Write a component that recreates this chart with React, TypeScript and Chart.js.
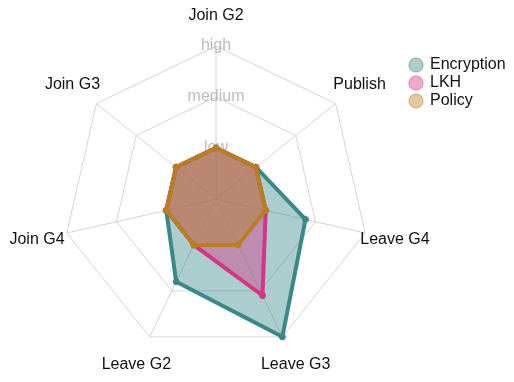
import React, { useEffect, useRef } from "react";
import { Chart, registerables } from "chart.js";

Chart.register(...registerables);

const categories = ["Join G2", "Publish", "Leave G4", "Leave G3", "Leave G2", "Join G4", "Join G3"];
const encryption = [1, 1, 1.8, 3, 1.8, 1, 1];
const lkh = [1, 1, 1, 2.1, 1, 1, 1];
const policy = [1, 1, 1, 1, 1, 1, 1];
const tickLabels = ["", "low", "medium", "high"];

const FONT = "'Liberation Sans', Arial, Helvetica, sans-serif";

const centeredLabels = {
  id: "centeredLabels",
  afterLayout(chart: any) {
    const lg = chart.legend;
    if (lg) {
      lg.left = 408;
      lg.right = 408 + lg.width;
      lg.top = 55;
      lg.bottom = 55 + lg.height;
    }
  },
  afterDraw(chart: any) {
    const scale = chart.scales.r;
    const ctx = chart.ctx;
    ctx.save();
    ctx.font = `16px ${FONT}`;
    ctx.fillStyle = "#111";
    ctx.textAlign = "center";
    ctx.textBaseline = "middle";
    const labels = chart.data.labels as string[];
    labels.forEach((lab, i) => {
      const p = scale.getPointPosition(i, scale.drawingArea * 1.2);
      ctx.fillText(lab, p.x, p.y);
    });
    ctx.restore();
  },
};

export default function App() {
  const ref = useRef<HTMLCanvasElement | null>(null);
  useEffect(() => {
    document.body.style.margin = "0";
    const ctx = ref.current!;
    const mk = (label: string, data: number[], rgb: string, order: number) => ({
      label,
      data,
      order,
      borderColor: `rgb(${rgb})`,
      backgroundColor: `rgba(${rgb},0.42)`,
      pointBackgroundColor: `rgb(${rgb})`,
      pointBorderColor: `rgb(${rgb})`,
      borderWidth: 4,
      pointRadius: 3,
      pointBorderWidth: 1,
      fill: "start",
    });
    const chart = new Chart(ctx, {
      type: "radar",
      data: {
        labels: categories,
        datasets: [
          mk("Encryption", encryption, "58,137,135", 3),
          mk("LKH", lkh, "214,52,134", 2),
          mk("Policy", policy, "184,126,32", 1),
        ] as any,
      },
      plugins: [centeredLabels],
      options: {
        animation: false,
        responsive: false,
        layout: { padding: { top: 36, bottom: 19, left: 46, right: 128 } },
        plugins: {
          legend: {
            position: "chartArea" as any,
            align: "start",
            labels: {
              usePointStyle: true,
              pointStyle: "circle",
              boxWidth: 12,
              boxHeight: 10,
              padding: 2,
              color: "#111",
              font: { family: FONT, size: 16 },
              generateLabels: (ch: any) =>
                ch.data.datasets.map((ds: any, i: number) => ({
                  text: ds.label,
                  fillStyle: ds.backgroundColor,
                  strokeStyle: ds.backgroundColor.replace("0.42)", "0.55)"),
                  lineWidth: 1,
                  pointStyle: "circle",
                  hidden: false,
                  datasetIndex: i,
                  fontColor: "#111",
                })),
            },
          },
          tooltip: { enabled: false },
        },
        scales: {
          r: {
            min: 0,
            max: 3,
            ticks: {
              stepSize: 1,
              showLabelBackdrop: false,
              color: "#bdbdbd",
              font: { family: FONT, size: 16 },
              callback: (v: any) => tickLabels[Math.round(Number(v))] ?? "",
            },
            grid: { color: "#d4d4d4", lineWidth: 1 },
            angleLines: { color: "#d4d4d4", lineWidth: 1 },
            pointLabels: { display: false },
          },
        },
      },
    });
    return () => chart.destroy();
  }, []);
  return <canvas ref={ref} width={514} height={382} style={{ display: "block" }} />;
}
